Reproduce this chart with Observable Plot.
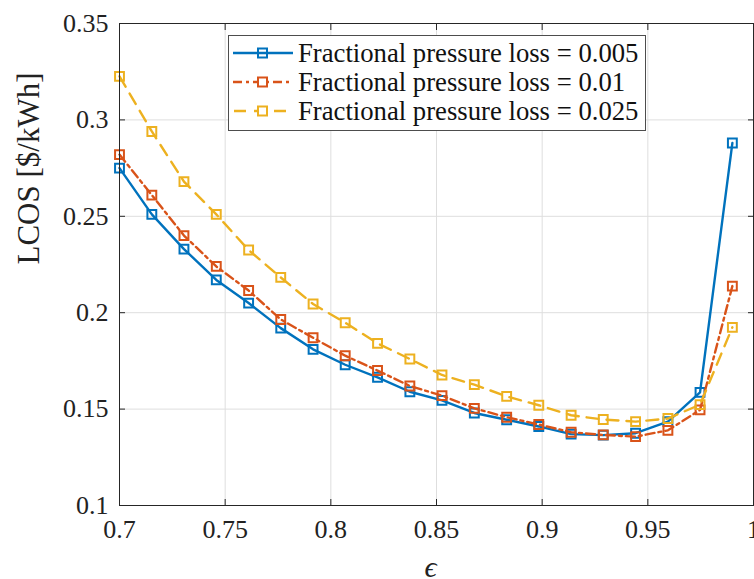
<!DOCTYPE html>
<html>
<head>
<meta charset="utf-8">
<script src="https://cdn.jsdelivr.net/npm/d3@7"></script>
<script src="https://cdn.jsdelivr.net/npm/@observablehq/plot@0.6"></script>
<style>
  html, body { margin: 0; padding: 0; background: #fff; }
  #wrap { position: relative; width: 754px; height: 579px; overflow: hidden; }
  .legend { position: absolute; left: 228px; top: 35px; width: 418px; height: 96px;
            background: #fff; border: 1px solid #4d4d4d; box-sizing: border-box;
            font-family: "Liberation Serif", "DejaVu Serif", serif; font-size: 26.7px; color: #111; }
  .row { position: absolute; left: 0; height: 28px; display: flex; align-items: center; white-space: nowrap; }
  .row svg { margin-left: 4px; margin-right: 4px; }
</style>
</head>
<body>
<div id="wrap"></div>
<script>
// ---- data ----
const epsilon = [0.7, 0.7153, 0.7305, 0.7458, 0.7611, 0.7763, 0.7916, 0.8068, 0.8221, 0.8374,
                 0.8526, 0.8679, 0.8832, 0.8984, 0.9137, 0.9289, 0.9442, 0.9595, 0.9747, 0.99];
const lcos005 = [0.275, 0.251, 0.233, 0.217, 0.205, 0.192, 0.181, 0.173, 0.1665, 0.159,
                 0.1545, 0.148, 0.1445, 0.141, 0.137, 0.1365, 0.1375, 0.1435, 0.1587, 0.288];
const lcos010 = [0.282, 0.261, 0.240, 0.224, 0.2115, 0.1965, 0.187, 0.1777, 0.170, 0.162,
                 0.157, 0.1504, 0.1458, 0.142, 0.138, 0.1366, 0.1357, 0.139, 0.1496, 0.2138];
const lcos025 = [0.3226, 0.294, 0.268, 0.251, 0.2325, 0.2183, 0.2045, 0.1948, 0.1841, 0.176,
                 0.1677, 0.1627, 0.1566, 0.152, 0.1468, 0.1446, 0.1435, 0.1451, 0.1523, 0.1924];
const seriesNames = ["Fractional pressure loss = 0.005", "Fractional pressure loss = 0.01", "Fractional pressure loss = 0.025"];
const xTicks = [0.7, 0.75, 0.8, 0.85, 0.9, 0.95, 1];
const xTickLabels = ["0.7", "0.75", "0.8", "0.85", "0.9", "0.95", "1"];
const yTicks = [0.1, 0.15, 0.2, 0.25, 0.3, 0.35];
const yTickLabels = ["0.1", "0.15", "0.2", "0.25", "0.3", "0.35"];
const xLabel = "\u03F5";
const yLabel = "LCOS [$/kWh]";

// ---- styles ----
const serif = "Liberation Serif";
const colors = ["#0072BD", "#D95319", "#EDB120"];
const dashes = [null, "9,4,3,4", "12,8"];
const allSeries = [lcos005, lcos010, lcos025];
const tables = allSeries.map(vals => epsilon.map((e, i) => ({eps: e, v: vals[i]})));

const seriesMarks = tables.flatMap((t, k) => [
  Plot.line(t, {x: "eps", y: "v", stroke: colors[k], strokeWidth: 2.4, strokeDasharray: dashes[k]}),
  Plot.dot(t, {x: "eps", y: "v", symbol: "square", r: 5, stroke: colors[k], strokeWidth: 2, fill: "none"})
]);

const noText = () => "";

const chart = Plot.plot({
  width: 754, height: 579,
  marginLeft: 119, marginRight: 1, marginTop: 23, marginBottom: 74,
  style: {fontFamily: serif, fontSize: "26px", color: "#262626", background: "#fff"},
  x: {domain: [0.7, 1]},
  y: {domain: [0.1, 0.35]},
  marks: [
    Plot.gridX({ticks: xTicks, stroke: "#dedede", strokeOpacity: 1}),
    Plot.gridY({ticks: yTicks, stroke: "#dedede", strokeOpacity: 1}),
    ...seriesMarks,
    Plot.frame({stroke: "#262626", strokeWidth: 1}),
    Plot.axisX({ticks: xTicks, tickFormat: noText, tickSize: -6, label: null}),
    Plot.axisX({anchor: "top", ticks: xTicks, tickFormat: noText, tickSize: -6, label: null}),
    Plot.axisY({ticks: yTicks, tickFormat: noText, tickSize: -6, label: null}),
    Plot.axisY({anchor: "right", ticks: yTicks, tickFormat: noText, tickSize: -6, label: null}),
    Plot.text(xTicks, {x: d => d, text: (d, i) => xTickLabels[i], frameAnchor: "bottom", lineAnchor: "middle", dy: 24,
                       fontSize: 26, fontFamily: serif, fill: "#222"}),
    Plot.text(yTicks, {y: d => d, text: (d, i) => yTickLabels[i], frameAnchor: "left", textAnchor: "end", dx: -11,
                       fontSize: 26, fontFamily: serif, fill: "#222"}),
    Plot.text([yLabel], {frameAnchor: "left", rotate: -90, dx: -90, fontSize: 31, fontFamily: serif, fill: "#222"}),
    Plot.text([xLabel], {frameAnchor: "bottom", lineAnchor: "bottom", dx: -6, dy: 71, fontSize: 30, fontFamily: serif, fontStyle: "italic", fill: "#222"})
  ]
});
const wrap = document.getElementById("wrap");
wrap.appendChild(chart);

// ---- legend ----
const legend = document.createElement("div");
legend.className = "legend";
const rowTops = [3, 32, 61];
seriesNames.forEach((name, k) => {
  const row = document.createElement("div");
  row.className = "row";
  row.style.top = rowTops[k] + "px";
  const dash = dashes[k] ? `stroke-dasharray="${dashes[k]}"` : "";
  row.innerHTML = `<svg width="61" height="20" style="overflow:visible">
      <line x1="0" y1="10" x2="60" y2="10" stroke="${colors[k]}" stroke-width="2.4" ${dash} ${k===2?'stroke-dashoffset="-1"':''}/>
      <rect x="25" y="5.5" width="9" height="9" fill="${k===0?'none':'#fff'}" stroke="${colors[k]}" stroke-width="2"/>
    </svg><span>${name}</span>`;
  legend.appendChild(row);
});
wrap.appendChild(legend);
</script>
</body>
</html>
